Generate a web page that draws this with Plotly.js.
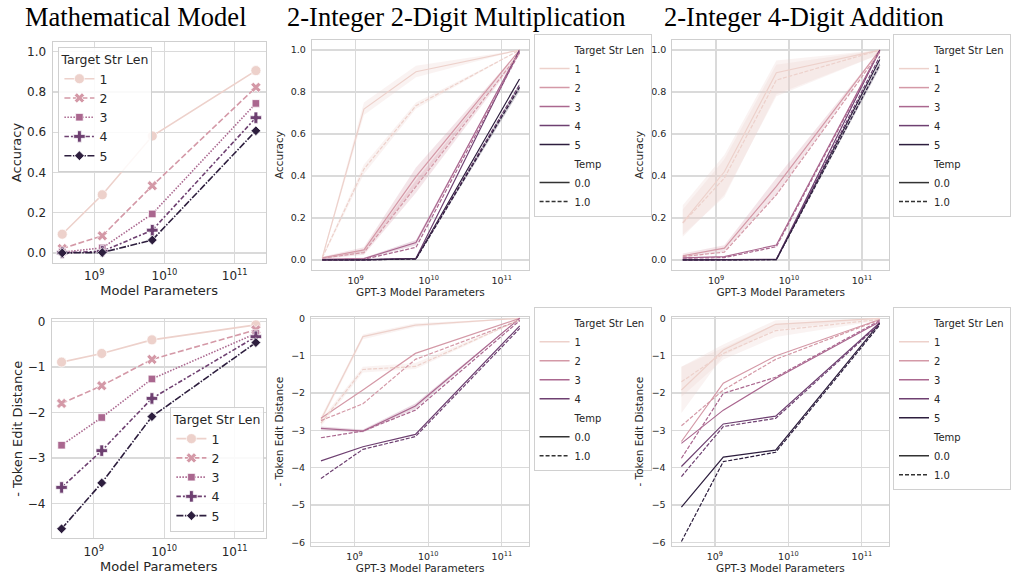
<!DOCTYPE html>
<html><head><meta charset="utf-8">
<script src="https://cdn.plot.ly/plotly-3.0.1.min.js"></script>
<style>html,body{margin:0;padding:0;background:#fff}#chart{width:1011px;height:578px}</style>
</head><body><div id="chart"></div>
<script>
// ---------------- data ----------------
const strLens = ['1', '2', '3', '4', '5'];
const temps = ['0.0', '1.0'];
const hueColors = ['#edd1cb', '#d499a7', '#aa678f', '#6e4071', '#2d1e3e'];
const mathParams = [3.5e8, 1.3e9, 6.7e9, 2.0e11];
const gptParams = [3.5e8, 1.3e9, 6.7e9, 1.75e11];
const xTickVals = [1e9, 1e10, 1e11];
const xTickText = ['10<sup>9</sup>', '10<sup>10</sup>', '10<sup>11</sup>'];

// Mathematical model (rows = target str len 1..5)
const mathAccuracy = [
  [0.093, 0.289, 0.581, 0.906],
  [0.022, 0.085, 0.334, 0.823],
  [0.004, 0.025, 0.194, 0.743],
  [0.001, 0.008, 0.113, 0.672],
  [0.000, 0.002, 0.064, 0.607]
];
const mathEditDist = [
  [-0.89, -0.70, -0.40, -0.07],
  [-1.80, -1.41, -0.83, -0.18],
  [-2.72, -2.11, -1.26, -0.26],
  [-3.65, -2.84, -1.69, -0.33],
  [-4.56, -3.55, -2.09, -0.46]
];

// 2-Integer 2-Digit Multiplication, accuracy
const mulAccT0 = [
  [0.011, 0.719, 0.897, 1.000],
  [0.010, 0.048, 0.397, 1.000],
  [0.003, 0.006, 0.083, 1.000],
  [0.000, 0.001, 0.008, 1.000],
  [0.000, 0.000, 0.006, 0.862]
];
const mulAccT1 = [
  [0.011, 0.433, 0.735, 1.000],
  [0.008, 0.035, 0.350, 0.985],
  [0.001, 0.003, 0.060, 0.990],
  [0.000, 0.000, 0.006, 0.835],
  [0.000, 0.000, 0.004, 0.822]
];
// 2-Integer 4-Digit Addition, accuracy
const addAccT0 = [
  [0.178, 0.420, 0.892, 1.000],
  [0.020, 0.056, 0.350, 1.000],
  [0.010, 0.016, 0.071, 1.000],
  [0.000, 0.002, 0.003, 1.000],
  [0.000, 0.000, 0.001, 0.955]
];
const addAccT1 = [
  [0.175, 0.390, 0.857, 1.000],
  [0.016, 0.037, 0.310, 0.990],
  [0.008, 0.011, 0.063, 0.995],
  [0.000, 0.001, 0.002, 0.970],
  [0.000, 0.000, 0.001, 0.930]
];
// Multiplication, - token edit distance (levels 1..4)
const mulEditT0 = [
  [-2.72, -0.49, -0.18, 0.00],
  [-2.68, -1.92, -0.94, 0.00],
  [-2.95, -3.02, -2.35, 0.00],
  [-3.82, -3.44, -3.11, -0.20]
];
const mulEditT1 = [
  [-2.81, -1.37, -1.29, -0.04],
  [-2.74, -2.29, -1.10, -0.05],
  [-3.20, -3.02, -2.46, -0.06],
  [-4.29, -3.51, -3.17, -0.27]
];
// Addition, - token edit distance
const addEditT0 = [
  [-1.92, -0.85, -0.16, 0.00],
  [-3.30, -1.74, -1.01, -0.03],
  [-3.35, -2.46, -1.61, -0.09],
  [-3.97, -2.83, -2.62, -0.12],
  [-5.06, -3.72, -3.53, -0.13]
];
const addEditT1 = [
  [-1.70, -0.94, -0.33, -0.03],
  [-2.88, -1.92, -1.10, -0.04],
  [-3.75, -2.01, -1.58, -0.06],
  [-4.24, -2.90, -2.68, -0.15],
  [-5.98, -3.84, -3.59, -0.18]
];

// confidence bands: [series index, temp index, lower, upper]
const mulAccBands = [
  [0, 0, [0.005, 0.690, 0.870, 1.0], [0.017, 0.750, 0.925, 1.0]],
  [0, 1, [0.005, 0.410, 0.720, 1.0], [0.017, 0.455, 0.750, 1.0]],
  [1, 0, [0.005, 0.035, 0.355, 1.0], [0.015, 0.060, 0.440, 1.0]],
  [1, 1, [0.004, 0.025, 0.320, 0.975], [0.012, 0.045, 0.380, 0.995]],
  [2, 0, [0.001, 0.003, 0.070, 1.0], [0.005, 0.010, 0.095, 1.0]],
  [4, 1, [0.000, 0.000, 0.002, 0.805], [0.000, 0.000, 0.006, 0.840]]
];
const addAccBands = [
  [0, 0, [0.110, 0.310, 0.780, 0.98], [0.260, 0.500, 0.950, 1.0]],
  [0, 1, [0.120, 0.300, 0.790, 0.98], [0.240, 0.480, 0.930, 1.0]],
  [1, 0, [0.012, 0.040, 0.310, 1.0], [0.030, 0.070, 0.390, 1.0]],
  [4, 1, [0.000, 0.000, 0.000, 0.915], [0.000, 0.000, 0.002, 0.945]]
];
const mulEditBands = [
  [0, 0, [-2.80, -0.56, -0.23, 0.0], [-2.64, -0.43, -0.13, 0.0]],
  [0, 1, [-2.90, -1.45, -1.36, -0.06], [-2.72, -1.30, -1.20, -0.02]],
  [2, 0, [-3.00, -3.06, -2.42, 0.0], [-2.90, -2.98, -2.28, 0.0]]
];
const addEditBands = [
  [0, 0, [-2.54, -1.00, -0.30, 0.0], [-1.30, -0.70, -0.05, 0.0]],
  [0, 1, [-2.10, -1.10, -0.50, -0.06], [-1.30, -0.78, -0.15, 0.0]]
];

// ---------------- helpers ----------------
function rgba(hex, a) {
  const n = parseInt(hex.slice(1), 16);
  return 'rgba(' + ((n >> 16) & 255) + ',' + ((n >> 8) & 255) + ',' + (n & 255) + ',' + a + ')';
}
const TICK = '#262626';
const FONT = 'DejaVu Sans, sans-serif';
const data = [];

// Mathematical model panels: lines + markers, seaborn-style dashes/markers
const mathSymbols = ['circle', 'x', 'square', 'cross', 'diamond'];
const mathSizes = [10, 9, 7.5, 9.5, 7.5];
const mathDashes = ['solid', '6px,2.5px', '1.5px,1.5px', '4.5px,2px,2px,2px', '7px,1.5px,1.5px,1.5px'];
function addMath(values, xa, ya, legendId) {
  values.forEach(function (row, i) {
    data.push({
      type: 'scatter', mode: 'lines+markers', x: mathParams, y: row,
      xaxis: xa, yaxis: ya, legend: legendId, name: strLens[i],
      line: {color: hueColors[i], width: 1.6, dash: mathDashes[i]},
      marker: {symbol: mathSymbols[i], size: mathSizes[i], color: hueColors[i], line: {color: '#ffffff', width: 0.7}},
      hoverinfo: 'x+y'
    });
  });
}
addMath(mathAccuracy, 'x', 'y', 'legend');
addMath(mathEditDist, 'x4', 'y4', 'legend4');

// GPT-3 panels: legend rows, bands, lines
function addLegendRows(legendId, xa, ya, nLevels) {
  const blank = {type: 'scatter', mode: 'lines', x: [null], y: [null], xaxis: xa, yaxis: ya,
    legend: legendId, line: {color: 'rgba(0,0,0,0)', width: 0}, hoverinfo: 'skip'};
  data.push(Object.assign({}, blank, {name: 'Target Str Len'}));
  for (let i = 0; i < nLevels; i++) {
    data.push(Object.assign({}, blank, {name: strLens[i], line: {color: hueColors[i], width: 1.5}}));
  }
  data.push(Object.assign({}, blank, {name: 'Temp'}));
  data.push(Object.assign({}, blank, {name: temps[0], line: {color: '#333333', width: 1.5}}));
  data.push(Object.assign({}, blank, {name: temps[1], line: {color: '#333333', width: 1.5, dash: '4px,2px'}}));
}
function addGpt(t0, t1, bands, xa, ya, legendId) {
  addLegendRows(legendId, xa, ya, t0.length);
  bands.forEach(function (b) {
    const lo = b[2], hi = b[3];
    data.push({
      type: 'scatter', mode: 'lines', x: gptParams.concat(gptParams.slice().reverse()),
      y: hi.concat(lo.slice().reverse()), fill: 'toself', fillcolor: rgba(hueColors[b[0]], 0.25),
      line: {width: 0, color: 'rgba(0,0,0,0)'}, xaxis: xa, yaxis: ya, showlegend: false, hoverinfo: 'skip'
    });
  });
  [t0, t1].forEach(function (set, ti) {
    set.forEach(function (row, i) {
      data.push({
        type: 'scatter', mode: 'lines', x: gptParams, y: row, xaxis: xa, yaxis: ya,
        name: strLens[i] + ' / ' + temps[ti], showlegend: false,
        line: {color: hueColors[i], width: 1.2, dash: ti === 0 ? 'solid' : '4px,1.6px'}
      });
    });
  });
}
addGpt(mulAccT0, mulAccT1, mulAccBands, 'x2', 'y2', 'legend2');
addGpt(addAccT0, addAccT1, addAccBands, 'x3', 'y3', 'legend3');
addGpt(mulEditT0, mulEditT1, mulEditBands, 'x5', 'y5', 'legend5');
addGpt(addEditT0, addEditT1, addEditBands, 'x6', 'y6', 'legend6');

// ---------------- layout ----------------
const GRID = '#dadada';
function xAxis(domain, range, anchor, title, fs, tfs, standoff) {
  return {
    domain: domain, anchor: anchor, type: 'log', range: range,
    tickvals: xTickVals, ticktext: xTickText, ticks: '', ticklabelstandoff: 2,
    tickfont: {family: FONT, size: tfs, color: TICK},
    title: {text: title, font: {family: FONT, size: fs, color: TICK}, standoff: standoff},
    showgrid: true, gridcolor: GRID, gridwidth: 1.2, zeroline: false,
    showline: true, mirror: true, linecolor: '#cfcfcf', linewidth: 1, automargin: false, fixedrange: true
  };
}
function yAxis(domain, range, anchor, title, fs, tfs, vals, text, standoff) {
  return {
    domain: domain, anchor: anchor, range: range, tickvals: vals, ticktext: text, ticks: '',
    ticklabelstandoff: 3, tickfont: {family: FONT, size: tfs, color: TICK},
    title: {text: title, font: {family: FONT, size: fs, color: TICK}, standoff: standoff},
    showgrid: true, gridcolor: GRID, gridwidth: 1.2, zeroline: false,
    showline: true, mirror: true, linecolor: '#cfcfcf', linewidth: 1, automargin: false, fixedrange: true
  };
}
const accVals = [0, 0.2, 0.4, 0.6, 0.8, 1.0];
const accText = ['0.0', '0.2', '0.4', '0.6', '0.8', '1.0'];
const ed4Vals = [0, -1, -2, -3, -4];
const ed4Text = ['0', '\u22121', '\u22122', '\u22123', '\u22124'];
const ed6Vals = [0, -1, -2, -3, -4, -5, -6];
const ed6Text = ['0', '\u22121', '\u22122', '\u22123', '\u22124', '\u22125', '\u22126'];

function legendBox(x, y, yanchor, fs, title) {
  const l = {
    x: x, y: y, xanchor: 'left', yanchor: yanchor, bgcolor: 'rgba(255,255,255,0.85)',
    bordercolor: '#d0d0d0', borderwidth: 1, font: {family: FONT, size: fs, color: TICK},
    tracegroupgap: 0, itemclick: false, itemdoubleclick: false
  };
  if (title) l.title = {text: title, side: 'top center', font: {family: FONT, size: fs, color: TICK}};
  return l;
}

const titleFont = {family: 'Liberation Serif, Times New Roman, serif', size: 26.5, color: '#000000'};
const layout = {
  width: 1011, height: 578, margin: {l: 0, r: 0, t: 0, b: 0},
  paper_bgcolor: '#ffffff', plot_bgcolor: '#ffffff', showlegend: true,
  xaxis: xAxis([0.0534, 0.2697], [8.407, 11.44], 'y', 'Model Parameters', 13, 12, 3),
  yaxis: yAxis([0.545, 0.9273], [-0.05, 1.048], 'x', 'Accuracy', 13, 12, accVals, accText, 2),
  xaxis2: xAxis([0.3165, 0.5371], [8.4, 11.373], 'y2', 'GPT-3 Model Parameters', 10.5, 9.5, 3),
  yaxis2: yAxis([0.5329, 0.9308], [-0.048, 1.048], 'x2', 'Accuracy', 10.5, 9.5, accVals, accText, 5),
  xaxis3: xAxis([0.6825, 0.9028], [8.4, 11.373], 'y3', 'GPT-3 Model Parameters', 10.5, 9.5, 3),
  yaxis3: yAxis([0.5329, 0.9308], [-0.048, 1.048], 'x3', 'Accuracy', 10.5, 9.5, accVals, accText, 5),
  xaxis4: xAxis([0.0527, 0.2697], [8.407, 11.44], 'y4', 'Model Parameters', 13, 12, 3),
  yaxis4: yAxis([0.0687, 0.4476], [-4.77, 0.053], 'x4', '- Token Edit Distance', 13, 12, ed4Vals, ed4Text, 2),
  xaxis5: xAxis([0.3158, 0.5374], [8.41, 11.373], 'y5', 'GPT-3 Model Parameters', 10.5, 9.5, 3),
  yaxis5: yAxis([0.0554, 0.451], [-6.1, 0.027], 'x5', '- Token Edit Distance', 10.5, 9.5, ed6Vals, ed6Text, 5),
  xaxis6: xAxis([0.6818, 0.9028], [8.41, 11.373], 'y6', 'GPT-3 Model Parameters', 10.5, 9.5, 3),
  yaxis6: yAxis([0.0554, 0.451], [-6.1, 0.027], 'x6', '- Token Edit Distance', 10.5, 9.5, ed6Vals, ed6Text, 5),
  legend: legendBox(0.0593, 0.919, 'top', 12.5, 'Target Str Len'),
  legend4: legendBox(0.173, 0.080, 'bottom', 12.5, 'Target Str Len'),
  legend2: legendBox(0.5417, 0.941, 'top', 10),
  legend3: legendBox(0.9067, 0.941, 'top', 10),
  legend5: legendBox(0.5417, 0.4683, 'top', 10),
  legend6: legendBox(0.9067, 0.4683, 'top', 10),
  annotations: [
    {text: 'Mathematical Model', x: 140 / 1011, y: 1 - 17 / 578, xref: 'paper', yref: 'paper', showarrow: false, font: titleFont, xanchor: 'center', yanchor: 'middle'},
    {text: '2-Integer 2-Digit Multiplication', x: 469 / 1011, y: 1 - 17 / 578, xref: 'paper', yref: 'paper', showarrow: false, font: titleFont, xanchor: 'center', yanchor: 'middle'},
    {text: '2-Integer 4-Digit Addition', x: 825 / 1011, y: 1 - 17 / 578, xref: 'paper', yref: 'paper', showarrow: false, font: titleFont, xanchor: 'center', yanchor: 'middle'}
  ]
};

Plotly.newPlot('chart', data, layout, {displayModeBar: false, staticPlot: true});
</script>
</body></html>
